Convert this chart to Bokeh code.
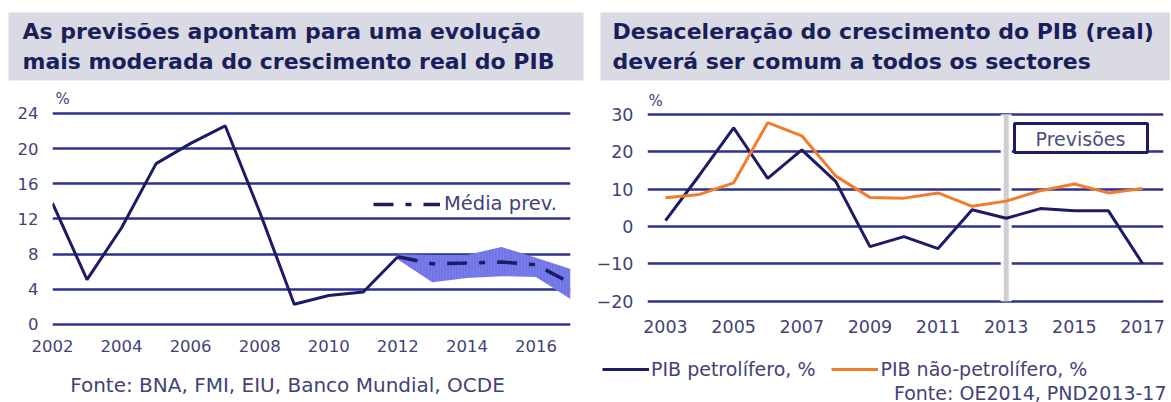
from bokeh.plotting import figure
from bokeh.models import Range1d, FixedTicker, Label, BoxAnnotation, Legend, LegendItem
from bokeh.layouts import row, column
from bokeh.embed import file_html
from bokeh.resources import INLINE

# ---------------- data ----------------
years_hist = [2002, 2003, 2004, 2005, 2006, 2007, 2008, 2009, 2010, 2011, 2012]
gdp_hist = [13.8, 5.1, 11.0, 18.3, 20.6, 22.6, 12.8, 2.3, 3.3, 3.7, 7.7]
years_fc = [2012, 2013, 2014, 2015, 2016, 2017]
fc_mean = [7.7, 6.9, 7.0, 7.1, 6.8, 4.7]
fc_high = [8.0, 7.9, 7.9, 8.8, 7.6, 6.3]
fc_low = [7.4, 4.8, 5.3, 5.5, 5.4, 2.9]
left_yticks = [0, 4, 8, 12, 16, 20, 24]
left_xticks = [2002, 2004, 2006, 2008, 2010, 2012, 2014, 2016]

years_sect = list(range(2003, 2018))
pib_oil = [1.6, 13.8, 26.4, 12.9, 20.5, 12.0, -5.4, -2.7, -5.9, 4.5, 2.2, 4.8, 4.2, 4.2, -9.9]
pib_nonoil = [7.7, 8.6, 11.7, 27.8, 24.3, 13.5, 7.8, 7.6, 9.0, 5.4, 6.8, 9.6, 11.4, 9.0, 10.2]
right_yticks = [-20, -10, 0, 10, 20, 30]
right_xticks = [2003, 2005, 2007, 2009, 2011, 2013, 2015, 2017]
forecast_start = 2013

title_left = ["As previsões apontam para uma evolução",
              "mais moderada do crescimento real do PIB"]
title_right = ["Desaceleração do crescimento do PIB (real)",
               "deverá ser comum a todos os sectores"]
source_left = "Fonte: BNA, FMI, EIU, Banco Mundial, OCDE"
source_right = "Fonte: OE2014, PND2013-17"

# ---------------- style ----------------
FONT = "DejaVu Sans"
NAVY = "#1c1c66"
GRID = "#2e3090"
TICK = "#3f4378"
TITLE_BG = "#d9dae3"
TITLE_FG = "#1a1f5c"
ORANGE = "#f07c2c"
BAND = "#7275e8"

W_L, W_R = 590, 580
H_T, H_C, H_F = 84, 273, 45


def blank(width, height, bl, br, bt, bb, bg="white"):
    f = figure(width=width, height=height, x_range=Range1d(0, 1), y_range=Range1d(0, 1),
               x_axis_location=None, y_axis_location=None,
               min_border_left=bl, min_border_right=br, min_border_top=bt, min_border_bottom=bb,
               output_backend="svg", toolbar_location=None)
    f.outline_line_color = None
    f.grid.visible = False
    f.background_fill_color = bg
    f.border_fill_color = "white"
    return f


def style(p, yticks, xticks, size, standoff_x, standoff_y):
    p.outline_line_color = None
    p.background_fill_color = "white"
    p.border_fill_color = "white"
    for ax in (p.xaxis[0], p.yaxis[0]):
        ax.axis_line_color = None
        ax.major_tick_line_color = None
        ax.minor_tick_line_color = None
        ax.major_tick_out = 0
        ax.major_tick_in = 0
        ax.major_label_text_font = FONT
        ax.major_label_text_color = TICK
        ax.major_label_text_font_size = size
    p.xaxis[0].ticker = FixedTicker(ticks=xticks)
    p.yaxis[0].ticker = FixedTicker(ticks=yticks)
    p.xaxis[0].major_label_standoff = standoff_x
    p.yaxis[0].major_label_standoff = standoff_y
    p.xgrid.grid_line_color = None
    p.ygrid.ticker = FixedTicker(ticks=yticks)
    p.ygrid.grid_line_color = GRID
    p.ygrid.grid_line_width = 2.5


def txt(x, y, t, size, color=TICK, bold=False, align="left"):
    return Label(x=x, y=y, x_units="screen", y_units="screen", text=t, text_font=FONT,
                 text_font_size=size, text_color=color,
                 text_font_style="bold" if bold else "normal",
                 text_baseline="middle", text_align=align)


# ================= title row =================
t1 = blank(W_L, H_T, 8, 7, 12, 4, TITLE_BG)       # frame: x 8..583, y 12..80
for i, t in enumerate(title_left):
    t1.add_layout(txt(22 - 8, 80 - (31 + 30 * i), t, "22px", TITLE_FG, bold=True))
t2 = blank(W_R, H_T, 10, 0, 12, 4, TITLE_BG)      # frame: x 600..1170, y 12..80
for i, t in enumerate(title_right):
    t2.add_layout(txt(612 - 600, 80 - (31 + 30 * i), t, "22px", TITLE_FG, bold=True))

# ================= chart row (page y 84..357, frame y 86..326) =================
p1 = figure(width=W_L, height=H_C, x_range=Range1d(2002, 2017), y_range=Range1d(-0.23, 27.07),
            min_border_left=52, min_border_right=20, min_border_top=2, min_border_bottom=31,
            output_backend="svg", toolbar_location=None)
style(p1, left_yticks, left_xticks, "16.5px", 13, 14)

p1.varea(x=years_fc, y1=fc_low, y2=fc_high, fill_color=BAND, fill_alpha=1.0,
         hatch_pattern="vertical_line", hatch_color="#9a9cf0", hatch_alpha=0.25,
         hatch_scale=3, hatch_weight=1)
p1.line(years_hist, gdp_hist, line_color=NAVY, line_width=3)
r_mean = p1.line(years_fc, fc_mean, line_color=NAVY, line_width=3.5, line_dash="20 12 6 12")

leg1 = Legend(items=[LegendItem(label="Média prev.", renderers=[r_mean])],
              location=(373 - 52, 326 - 215), orientation="vertical",
              background_fill_alpha=0, border_line_color=None,
              padding=0, margin=0, spacing=0, glyph_width=67, glyph_height=20,
              label_standoff=4, label_text_font=FONT, label_text_font_size="19.5px",
              label_text_color=TICK, label_height=20)
p1.add_layout(leg1, "center")
p1.add_layout(txt(55 - 52, 326 - 98, "%", "15px"))

p2 = figure(width=W_R, height=H_C, x_range=Range1d(2002.472, 2017.616), y_range=Range1d(-26.78, 37.5),
            min_border_left=57, min_border_right=7, min_border_top=2, min_border_bottom=31,
            output_backend="svg", toolbar_location=None)
style(p2, right_yticks, right_xticks, "17.5px", -7, 14)

ylo, yhi = min(right_yticks), max(right_yticks)
p2.segment(x0=[forecast_start], y0=[ylo], x1=[forecast_start], y1=[yhi],
           line_color="white", line_width=11)
p2.segment(x0=[forecast_start], y0=[ylo], x1=[forecast_start], y1=[yhi],
           line_color="#cfcfcf", line_width=5)
p2.line(years_sect, pib_oil, line_color=NAVY, line_width=3)
p2.line(years_sect, pib_nonoil, line_color=ORANGE, line_width=3)

p2.add_layout(txt(1, 326 - 100, "%", "15px"))
p2.add_layout(BoxAnnotation(left=1014 - 647, right=1147 - 647, top=326 - 123, bottom=326 - 152,
                            left_units="screen", right_units="screen",
                            top_units="screen", bottom_units="screen",
                            fill_color="white", fill_alpha=1, line_color=NAVY,
                            line_alpha=1, line_width=3))
p2.add_layout(txt(1080 - 647, 326 - 138, "Previsões", "19px", "#4a4e80", align="center"))

# ================= footer row (page y 357..402) =================
f1 = blank(W_L, H_F, 0, 0, 0, 0)
f1.add_layout(txt(287, 402 - 384, source_left, "20px", align="center"))

f2 = blank(W_R, H_F, 0, 0, 0, 0)
# legend keys: same series, lying outside this strip's (0..1) ranges so only the keys show
s_oil = f2.line(years_sect, pib_oil, line_color=NAVY, line_width=3)
s_non = f2.line(years_sect, pib_nonoil, line_color=ORANGE, line_width=3)
leg2 = Legend(items=[LegendItem(label="PIB petrolífero, %", renderers=[s_oil]),
                     LegendItem(label="PIB não-petrolífero, %", renderers=[s_non])],
              location=(602 - 590, 402 - 380), orientation="horizontal",
              background_fill_alpha=0, border_line_color=None,
              padding=0, margin=0, spacing=16, glyph_width=47, glyph_height=20,
              label_standoff=2, label_text_font=FONT, label_text_font_size="19px",
              label_text_color=TICK, label_height=20)
f2.add_layout(leg2, "center")
f2.add_layout(txt(1166 - 590, 402 - 392, source_right, "19px", align="right"))

layout = column(row(t1, t2), row(p1, p2), row(f1, f2))
open("out.html", "w").write(file_html(layout, INLINE))
